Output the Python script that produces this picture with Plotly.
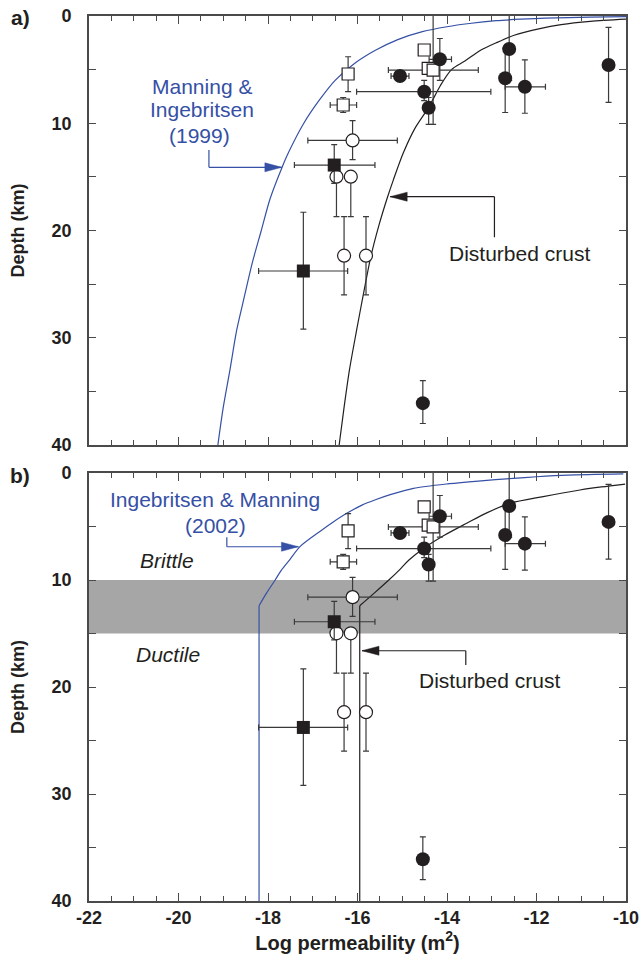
import plotly.graph_objects as go

# ---------------- data ----------------
# filled circles
fc_x   = [-15.05, -14.16, -14.51, -14.41, -12.61, -12.70, -12.26, -10.39, -14.54]
fc_d   = [5.6,    4.04,   7.06,   8.55,   3.08,   5.8,    6.6,    4.57,   36.1]
fc_xlo = [-15.25, -14.40, -16.02, None,   None,   None,   -12.70, None,   None]
fc_xhi = [-14.85, -13.90, -13.02, None,   None,   None,   -11.80, None,   None]
fc_dlo = [None,   2.1,    6.0,    7.6,    -1.0,   3.0,    4.1,    1.06,   34.0]
fc_dhi = [None,   6.0,    7.9,    10.1,   6.0,    9.0,    9.07,   8.05,   38.0]

# open squares
os_x   = [-16.21, -16.32, -14.51, -14.42, -14.31]
os_d   = [5.41,   8.3,    3.17,   4.88,   5.04]
os_xlo = [None,   -16.61, None,   None,   -15.31]
os_xhi = [None,   -16.02, None,   None,   -13.30]
os_dlo = [3.8,    7.6,    None,   None,   -1.0]
os_dhi = [7.06,   9.0,    None,   None,   10.1]

# open circles
oc_x   = [-16.11, -16.47, -16.15, -16.30, -15.81]
oc_d   = [11.6,   14.98,  14.98,  22.35,  22.35]
oc_xlo = [-17.11, None,   None,   None,   None]
oc_xhi = [-15.11, None,   None,   None,   None]
oc_dlo = [9.76,   None,   None,   18.7,   18.7]
oc_dhi = [13.4,   18.7,   18.7,   26.0,   26.0]

# filled squares
fs_x   = [-16.52, -17.21]
fs_d   = [13.9,   23.78]
fs_xlo = [-17.41, -18.21]
fs_xhi = [-15.61, -16.22]
fs_dlo = [12.0,   18.3]
fs_dhi = [15.6,   29.2]

# Manning & Ingebritsen (1999) curve (panel a)
mi_d = [0.06, 0.1, 0.2, 0.3, 0.44, 0.7, 1.0, 1.46, 2.2, 3.2, 4.41, 6.0, 7.83, 10.0,
        12.8, 14.05, 17.0, 20.0, 23.0, 26.2, 29.3, 33.0, 36.5, 40.0]
mi_x = [-10.0, -10.8, -11.8, -12.35, -12.9, -13.5, -14.0, -14.55, -15.1, -15.6, -16.06,
        -16.5, -16.85, -17.2, -17.55, -17.68, -17.95, -18.15, -18.35, -18.53, -18.7,
        -18.85, -19.0, -19.12]

# Disturbed crust curve (panel a)
dca_d = [0.3, 0.5, 0.8, 1.2, 1.8, 2.5, 3.2, 4.2, 5.0, 6.5, 8.45, 10.5, 12.8, 15.3,
         16.9, 19.5, 22.4, 26.2, 29.3, 33.0, 36.5, 40.0]
dca_x = [-10.0, -10.8, -11.45, -11.95, -12.5, -12.9, -13.25, -13.6, -13.9, -14.15,
         -14.4, -14.72, -14.98, -15.2, -15.33, -15.52, -15.7, -15.88, -16.02, -16.18,
         -16.3, -16.41]

# Ingebritsen & Manning (2002) curve (panel b)
im_d = [0.09, 0.2, 0.35, 0.5, 0.75, 1.0, 1.43, 2.0, 2.5, 3.0, 3.77, 4.6, 5.46, 6.86,
        8.13, 9.07, 10.0, 11.2, 12.4]
im_x = [-10.06, -11.3, -12.0, -12.52, -13.3, -13.95, -14.75, -15.25, -15.6, -15.9,
        -16.24, -16.55, -16.84, -17.28, -17.52, -17.7, -17.84, -18.03, -18.2]
im_vd = [12.4, 40.0]
im_vx = [-18.2, -18.2]

# Disturbed crust curve (panel b)
dcb_d = [1.03, 1.3, 1.59, 2.2, 2.83, 3.7, 4.7, 5.8, 6.98, 8.13, 9.0, 10.0, 11.2, 12.4]
dcb_x = [-10.02, -10.55, -11.03, -11.85, -12.59, -13.1, -13.56, -14.05, -14.5, -14.85,
         -15.05, -15.3, -15.62, -15.95]
dcb_vd = [12.4, 40.0]
dcb_vx = [-15.95, -15.95]

# brittle-ductile transition band (panel b)
band_top, band_bottom = 10.0, 15.0

x_ticks = [-22, -20, -18, -16, -14, -12, -10]
x_ticktext = ["-22", "-20", "-18", "-16", "-14", "-12", "-10"]
y_ticks = [0, 10, 20, 30, 40]

# ---------------- styling ----------------
BLUE = "#3550a5"
INK = "#231f20"
ERR = "#3a3a3a"
AX = "#4a4a4a"
FONT = "Liberation Sans, Arial, Helvetica, sans-serif"


def plus(v, hi):
    return [(h - a) if h is not None else 0 for a, h in zip(v, hi)]


def minus(v, lo):
    return [(a - l) if l is not None else 0 for a, l in zip(v, lo)]


def err(v, lo, hi):
    return dict(type="data", symmetric=False, array=plus(v, hi), arrayminus=minus(v, lo),
                color=ERR, thickness=1.2, width=3)


fig = go.Figure()

groups = [
    (oc_x, oc_d, oc_xlo, oc_xhi, oc_dlo, oc_dhi, dict(symbol="circle", size=13, color="white", line=dict(color=INK, width=1.2))),
    (os_x, os_d, os_xlo, os_xhi, os_dlo, os_dhi, dict(symbol="square", size=12, color="white", line=dict(color=INK, width=1.2))),
    (fs_x, fs_d, fs_xlo, fs_xhi, fs_dlo, fs_dhi, dict(symbol="square", size=13, color=INK, line=dict(width=0))),
    (fc_x, fc_d, fc_xlo, fc_xhi, fc_dlo, fc_dhi, dict(symbol="circle", size=14, color=INK, line=dict(width=0))),
]

for xa, ya in (("x", "y"), ("x2", "y2")):
    if xa == "x":
        fig.add_trace(go.Scatter(x=mi_x, y=mi_d, mode="lines", line=dict(color=BLUE, width=1.2, shape="spline", smoothing=0.8),
                                 xaxis=xa, yaxis=ya, showlegend=False, hoverinfo="skip"))
        fig.add_trace(go.Scatter(x=dca_x, y=dca_d, mode="lines", line=dict(color=INK, width=1.2, shape="spline", smoothing=0.8),
                                 xaxis=xa, yaxis=ya, showlegend=False, hoverinfo="skip"))
    else:
        fig.add_trace(go.Scatter(x=im_x, y=im_d, mode="lines", line=dict(color=BLUE, width=1.2, shape="spline", smoothing=0.8),
                                 xaxis=xa, yaxis=ya, showlegend=False, hoverinfo="skip"))
        fig.add_trace(go.Scatter(x=im_vx, y=im_vd, mode="lines", line=dict(color=BLUE, width=1.2),
                                 xaxis=xa, yaxis=ya, showlegend=False, hoverinfo="skip"))
        fig.add_trace(go.Scatter(x=dcb_x, y=dcb_d, mode="lines", line=dict(color=INK, width=1.2, shape="spline", smoothing=0.8),
                                 xaxis=xa, yaxis=ya, showlegend=False, hoverinfo="skip"))
        fig.add_trace(go.Scatter(x=dcb_vx, y=dcb_vd, mode="lines", line=dict(color=INK, width=1.2),
                                 xaxis=xa, yaxis=ya, showlegend=False, hoverinfo="skip"))
    for gx, gd, gxlo, gxhi, gdlo, gdhi, mk in groups:
        fig.add_trace(go.Scatter(
            x=gx, y=gd, mode="markers", marker=mk,
            error_x=err(gx, gxlo, gxhi), error_y=err(gd, gdlo, gdhi),
            xaxis=xa, yaxis=ya, showlegend=False, hoverinfo="skip"))

# gray band
fig.add_shape(type="rect", xref="x2", yref="y2", x0=x_ticks[0], x1=x_ticks[-1],
              y0=band_top, y1=band_bottom, fillcolor="#a6a6a6", line=dict(width=0), layer="below")


def connector(xr, yr, pts, color, tip, direction):
    for (x0, y0), (x1, y1) in zip(pts[:-1], pts[1:]):
        fig.add_shape(type="line", xref=xr, yref=yr, x0=x0, y0=y0, x1=x1, y1=y1,
                      line=dict(color=color, width=1.2))
    if direction == "right":
        path = "M0,0 L-17,4.5 L-17,-4.5 Z"
    else:
        path = "M0,0 L17,4.5 L17,-4.5 Z"
    fig.add_shape(type="path", xref=xr, yref=yr, xsizemode="pixel", ysizemode="pixel",
                  xanchor=tip[0], yanchor=tip[1], path=path, fillcolor=color,
                  line=dict(color=color, width=0.5))


# panel a connectors
connector("x", "y", [(-19.32, 12.49), (-19.32, 14.11), (-17.69, 14.11)], BLUE, (-17.69, 14.11), "right")
connector("x", "y", [(-12.94, 20.63), (-12.94, 16.85), (-15.27, 16.85)], INK, (-15.27, 16.85), "left")
# panel b connectors
connector("x2", "y2", [(-18.92, 6.01), (-18.92, 6.89), (-17.32, 6.89)], BLUE, (-17.32, 6.89), "right")
connector("x2", "y2", [(-13.58, 17.94), (-13.58, 16.61), (-15.9, 16.61)], INK, (-15.9, 16.61), "left")

ann = []


def txt(xr, yr, x, y, s, color, italic=False, size=21):
    ann.append(dict(xref=xr, yref=yr, x=x, y=y, text=s, showarrow=False,
                    xanchor="center", yanchor="middle",
                    font=dict(family=FONT, size=size, color=color,
                              style="italic" if italic else "normal")))


txt("x", "y", -19.48, 6.53, "Manning &", BLUE)
txt("x", "y", -19.48, 8.76, "Ingebritsen", BLUE)
txt("x", "y", -19.54, 11.1, "(1999)", BLUE)
txt("x", "y", -12.37, 22.13, "Disturbed crust", INK)
txt("x2", "y2", -19.18, 2.52, "Ingebritsen &amp; Manning", BLUE)
txt("x2", "y2", -19.18, 4.86, "(2002)", BLUE)
txt("x2", "y2", -20.25, 8.16, "Brittle", INK, italic=True)
txt("x2", "y2", -20.23, 16.94, "Ductile", INK, italic=True)
txt("x2", "y2", -13.06, 19.41, "Disturbed crust", INK)

# panel letters
ann.append(dict(xref="paper", yref="paper", x=-0.128, y=0.998, text="<b>a)</b>", showarrow=False,
                xanchor="center", yanchor="middle", font=dict(family=FONT, size=21, color=INK)))
ann.append(dict(xref="paper", yref="paper", x=-0.128, y=0.481, text="<b>b)</b>", showarrow=False,
                xanchor="center", yanchor="middle", font=dict(family=FONT, size=21, color=INK)))

tickfont = dict(family=FONT, size=18, color=INK, weight="bold")

xcommon = dict(range=[x_ticks[0], x_ticks[-1]], tickvals=x_ticks, ticktext=x_ticktext,
               ticks="inside", ticklen=8,
               tickwidth=1.4, tickcolor=AX, showline=True, linecolor=AX, linewidth=1.6,
               mirror="allticks", showgrid=False, zeroline=False, automargin=False,
               minor=dict(dtick=0.5, ticks="inside", ticklen=5, tickwidth=1.2, tickcolor=AX, showgrid=False),
               tickfont=tickfont)
ycommon = dict(range=[y_ticks[-1], y_ticks[0]], tickvals=y_ticks, ticks="inside", ticklen=7,
               tickwidth=1.4, tickcolor=AX, showline=True, linecolor=AX, linewidth=1.6,
               mirror="allticks", showgrid=False, zeroline=False, automargin=False,
               minor=dict(dtick=5, ticks="inside", ticklen=7, tickwidth=1.2, tickcolor=AX, showgrid=False),
               tickfont=tickfont, ticklabelstandoff=12,
               title=dict(text="Depth (km)", standoff=22,
                          font=dict(family="Liberation Sans Narrow, Liberation Sans, Arial", size=18, color=INK, weight="bold")))

fig.update_layout(
    width=644, height=956,
    margin=dict(l=89, r=18, t=16, b=55, autoexpand=False),
    paper_bgcolor="white", plot_bgcolor="white",
    xaxis=dict(xcommon, anchor="y", showticklabels=False),
    yaxis=dict(ycommon, anchor="x", domain=[0.5153, 1.0]),
    xaxis2=dict(xcommon, anchor="y2", ticklabelstandoff=0,
                title=dict(text="Log permeability (m<sup>2</sup>)", standoff=1,
                           font=dict(family=FONT, size=20, color=INK, weight="bold"))),
    yaxis2=dict(ycommon, anchor="x2", domain=[0.0, 0.4836]),
    annotations=ann,
)

# remove the page's default 8 px body margin so the figure sits at the window origin
fig.write_html("out.html", post_script="document.body.style.margin='0';",
               config={"displayModeBar": False})
